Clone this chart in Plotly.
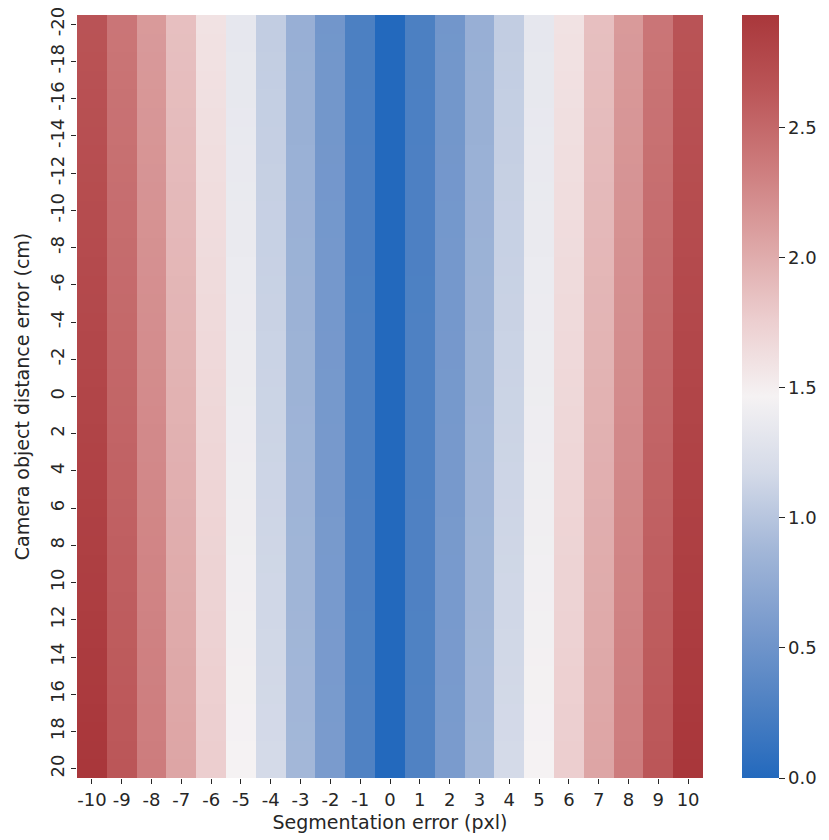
import numpy as np
import plotly.graph_objects as go

# Segmentation error (pixels) along x, camera-object distance error (cm) along y
seg_err = list(range(-10, 11))
dist_err = list(range(-20, 21))

# Estimation error at zero distance error, per segmentation error column
col_err = [2.80, 2.52, 2.24, 1.96, 1.68, 1.40, 1.12, 0.84, 0.56, 0.28, 0.00,
           0.28, 0.56, 0.84, 1.12, 1.40, 1.68, 1.96, 2.24, 2.52, 2.80]

# Relative scaling of the error for each distance error row (-20 .. 20 cm)
row_scale = [0.952, 0.954, 0.957, 0.959, 0.962, 0.964, 0.966, 0.969, 0.971, 0.974,
             0.976, 0.978, 0.981, 0.983, 0.986, 0.988, 0.990, 0.993, 0.995, 0.998,
             1.000,
             1.002, 1.005, 1.007, 1.010, 1.012, 1.014, 1.017, 1.019, 1.022, 1.024,
             1.026, 1.029, 1.031, 1.034, 1.036, 1.038, 1.041, 1.043, 1.046, 1.048]

z = np.outer(row_scale, col_err)

# blue-white-red diverging palette
vlag = [
    [0.0, "rgb(35,105,189)"],
    [0.1, "rgb(80,130,195)"],
    [0.2, "rgb(122,155,205)"],
    [0.3, "rgb(163,183,216)"],
    [0.4, "rgb(212,218,232)"],
    [0.5, "rgb(245,242,243)"],
    [0.6, "rgb(236,206,207)"],
    [0.7, "rgb(221,165,165)"],
    [0.8, "rgb(205,124,125)"],
    [0.9, "rgb(187,86,88)"],
    [1.0, "rgb(169,55,59)"],
]

font = dict(family="DejaVu Sans", size=18, color="#262626")
title_font = dict(family="DejaVu Sans", size=19, color="#262626")

fig = go.Figure(
    go.Heatmap(
        z=z,
        x=seg_err,
        y=dist_err,
        colorscale=vlag,
        zmin=0.0,
        zmax=float(np.max(z)),
        colorbar=dict(
            x=1.062, xanchor="left", xref="paper", xpad=0,
            y=0.5, yanchor="middle", len=1.0, lenmode="fraction", ypad=0,
            thickness=37, outlinewidth=0,
            tickvals=[0.0, 0.5, 1.0, 1.5, 2.0, 2.5],
            ticktext=["0.0", "0.5", "1.0", "1.5", "2.0", "2.5"],
            ticks="outside", ticklen=6, tickwidth=1, tickcolor="#262626",
            tickfont=font,
        ),
    )
)

fig.update_layout(
    width=829, height=840,
    margin=dict(l=77, r=126, t=15, b=62, autoexpand=False),
    paper_bgcolor="white", plot_bgcolor="white",
    font=font,
)

fig.update_xaxes(
    range=[-10.5, 10.5],
    tickvals=seg_err, ticktext=[str(v) for v in seg_err],
    ticks="outside", ticklen=5, tickcolor="#262626",
    showgrid=False, zeroline=False, showline=False,
    title=dict(text="Segmentation error (pxl)", font=title_font, standoff=7),
    tickfont=font,
)

fig.update_yaxes(
    range=[20.5, -20.5],
    tickvals=dist_err[::2], ticktext=[str(v) for v in dist_err[::2]],
    tickangle=-90,
    ticks="outside", ticklen=5, tickcolor="#262626",
    showgrid=False, zeroline=False, showline=False,
    title=dict(text="Camera object distance error (cm)", font=title_font, standoff=12),
    tickfont=font,
)

fig.write_html("out.html")
